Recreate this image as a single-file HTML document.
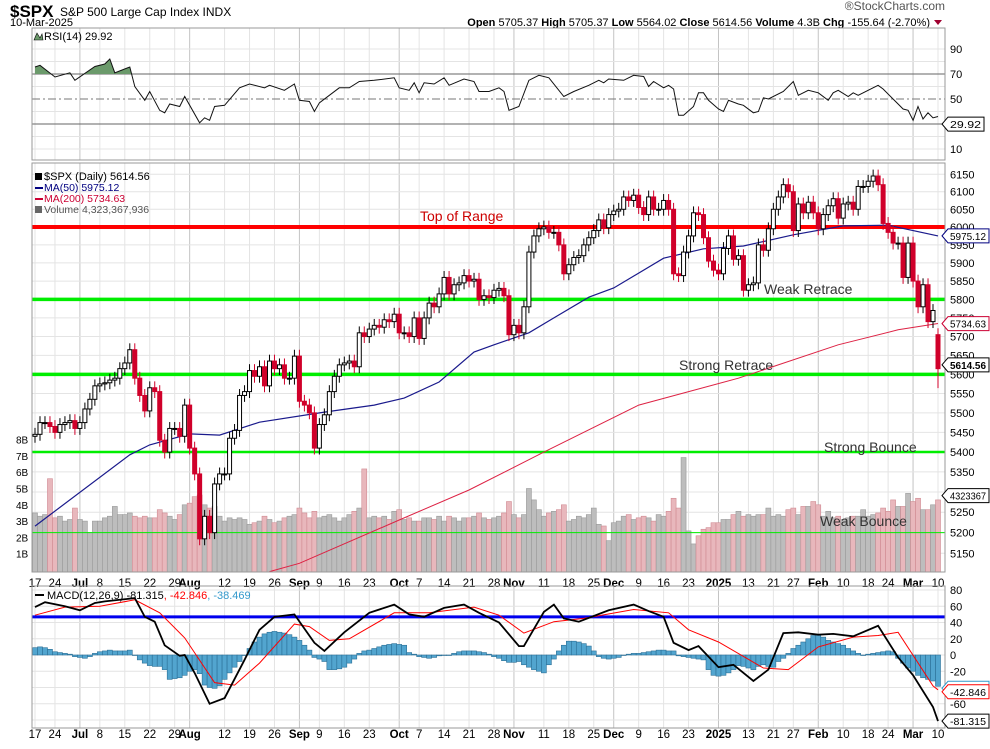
<!DOCTYPE html>
<html><head><meta charset="utf-8"><style>
body{margin:0;background:#fff;}
svg text{font-family:"Liberation Sans",Arial,sans-serif;}
</style></head><body>
<svg id="chart" width="990" height="744" viewBox="0 0 990 744" xmlns="http://www.w3.org/2000/svg">
<rect x="0" y="0" width="990" height="744" fill="#fff"/>
<g>
<text x="10" y="17" font-size="17" font-weight="bold">$SPX</text>
<text x="60" y="16" font-size="12">S&amp;P 500 Large Cap Index  INDX</text>
<text x="10" y="26" font-size="11">10-Mar-2025</text>
<text x="945" y="10" font-size="12" fill="#555" text-anchor="end">®StockCharts.com</text>
<text x="930" y="26" font-size="11" text-anchor="end"><tspan font-weight="bold">Open</tspan> 5705.37  <tspan font-weight="bold">High</tspan> 5705.37  <tspan font-weight="bold">Low</tspan> 5564.02  <tspan font-weight="bold">Close</tspan> 5614.56  <tspan font-weight="bold">Volume</tspan> 4.3B  <tspan font-weight="bold">Chg</tspan> -155.64 (-2.70%)</text>
<polygon points="934,20 942,20 938,25" fill="#a00030"/>
</g>
<g id="grid"></g>
<g id="vol"></g>
<g id="lines"></g>
<g id="price"></g>
<g id="rsi"></g>
<g id="macd"></g>
<g id="axes"></g>
<g id="anno">
<text x="420" y="221" font-size="14" fill="#cc0000">Top of Range</text>
<text x="764" y="294" font-size="14" fill="#333">Weak Retrace</text>
<text x="679" y="370" font-size="14" fill="#333">Strong Retrace</text>
<text x="824" y="452" font-size="14" fill="#333">Strong Bounce</text>
<text x="820" y="526" font-size="14" fill="#333">Weak Bounce</text>
</g>
<g font-family="DejaVu Sans, sans-serif">
<text x="44" y="180" font-size="11">$SPX (Daily) 5614.56</text>
<rect x="35" y="173" width="7" height="7" fill="#000"/>
<line x1="35" y1="188" x2="43" y2="188" stroke="#000080" stroke-width="2"/>
<text x="44" y="191" font-size="10.5" fill="#000080">MA(50) 5975.12</text>
<line x1="35" y1="199" x2="43" y2="199" stroke="#cc0033" stroke-width="2"/>
<text x="44" y="202" font-size="10.5" fill="#cc0033">MA(200) 5734.63</text>
<rect x="35" y="206" width="7" height="7" fill="#666"/>
<text x="44" y="213" font-size="10.5" fill="#555">Volume 4,323,367,936</text>
<text x="44" y="40" font-size="11">RSI(14) 29.92</text>
<polygon points="34,40 37,33 40,38 42,34 43,40" fill="#6b9a6b" stroke="#000" stroke-width="0.6"/>
<line x1="35" y1="595" x2="44" y2="595" stroke="#000" stroke-width="2"/>
<text x="47" y="599" font-size="11">MACD(12,26,9) -81.315<tspan fill="#ff0000">, -42.846</tspan><tspan fill="#3399cc">, -38.469</tspan></text>
</g>
</svg>
<script>
// ---- data ----
const closes = [
5445,5475,5475,5465,
5450,5470,5475,5480,5460,
5475,5510,5535,5570,
5575,5578,5585,5590,5615,
5630,5665,5590,5545,5505,
5565,5555,5430,5400,5460,
5460,5440,5520,5410,5345,
5185,5240,5200,5320,5345,
5345,5435,5455,5545,5555,
5610,5595,5620,5570,5635,
5615,5625,5590,5590,5648,
5530,5520,5500,5410,
5470,5495,5555,5595,5625,
5630,5635,5620,5710,5700,
5720,5730,5725,5745,5740,
5760,5710,5710,5700,5750,
5695,5750,5790,5780,5815,
5860,5815,5840,5845,5865,
5850,5855,5800,5810,5805,
5825,5830,5810,5705,5730,
5710,5780,5930,5975,5995,
6000,5985,5985,5950,5870,
5895,5915,5920,5950,5970,
5990,6020,5998,6035,
6045,6050,6085,6075,6090,
6055,6035,6085,6050,6050,
6075,6050,5870,5865,5930,
5975,6040,6035,5970,
5905,5880,5870,5940,
5975,5910,5920,5825,
5840,5845,5950,5935,5995,
6050,6085,6120,6100,
5990,6065,6040,6070,6040,
5995,6035,6060,6080,6025,
6065,6070,6050,6115,6115,
6130,6145,6120,6010,
5985,5955,5955,5860,5955,
5850,5780,5840,5740,5770,
5615];
const firstOpen = 5440;
const lastLow = 5564;
const volumes = [
3.5,3.3,3.4,5.6, 3.2,3.3,3.0,3.1,3.8, 3.1,3.0,2.3,3.0, 3.0,3.2,3.3,3.9,3.4,
3.4,3.5,3.3,3.2,3.3, 3.2,3.2,3.7,3.5,3.3, 3.1,3.4,4.0,4.1,4.5, 4.6,4.0,3.8,3.9,3.3,
3.0,3.2,3.1,3.2,3.1, 2.8,2.9,3.0,3.3,3.1, 2.9,3.0,3.2,3.3,3.4, 3.8,3.5,3.2,3.6,
3.2,3.3,3.4,3.2,3.0, 3.2,3.4,3.6,3.8,6.2, 3.2,3.3,3.2,3.3,3.1, 3.6,3.7,3.1,3.2,3.0,
3.0,3.2,3.2,3.1,3.3, 3.0,3.3,3.2,3.0,3.2, 3.2,3.3,3.5,3.2,3.1, 3.2,3.3,3.5,4.2,3.4,
3.2,3.4,5.0,4.3,3.7, 3.3,3.5,3.6,3.7,4.0, 3.0,3.1,3.3,3.2,3.4, 3.8,2.8,2.7,1.8,
2.9,3.0,3.3,3.4,3.1, 3.2,3.3,3.2,3.0,3.4, 3.3,3.6,4.4,3.8,6.9, 2.4,1.6,2.1,2.5,
2.6,2.9,2.9,3.1, 3.1,3.4,3.6,3.3, 3.4,3.3,3.4,3.4,3.8, 3.3,3.4,3.3,3.7,
3.8,3.4,3.9,3.9,4.2, 4.0,3.3,3.6,3.2,3.3, 3.1,3.2,3.3,3.3,3.7, 3.3,3.4,3.5,3.8,
3.6,4.3,3.9,3.9,4.7, 4.2,4.4,3.7,3.7,4.0, 4.3];
const ma50Idx = [0,19,23,31,37,45,58,68,74,81,88,92,99,104,111,116,126,134,142,152,162,171,181];
const ma50Val = [5216,5393,5418,5446,5443,5476,5502,5520,5538,5580,5659,5678,5710,5750,5806,5831,5913,5939,5947,5978,6003,6005,5975];
const ma200Idx = [47,53,73,87,102,121,141,161,173,181];
const ma200Val = [5106,5126,5231,5305,5400,5520,5590,5678,5718,5735];
const rsiIdx = [0,1,4,7,8,12,14,15,16,19,20,22,23,25,26,27,29,30,33,34,35,36,38,41,43,46,47,50,52,53,55,56,57,61,63,65,68,72,73,75,76,77,78,80,82,83,86,88,89,91,93,94,95,97,99,101,103,106,108,111,113,114,115,118,120,122,123,124,126,127,128,129,130,132,133,134,135,137,138,139,141,142,144,145,146,147,150,152,153,155,157,159,160,161,163,164,165,168,169,170,173,174,175,176,177,178,179,180,181];
const rsiVal = [75.6,77,67.6,71,65,76,78,82,71,75.6,60,49,56,41,39,46,44,52,31,35,33,44,45,59,62,59,61,57,62,49,48,40,47,59,59,64,65,67,59,57,63,55,63,62,67,61,66,64,56,56,59,56,41,44,65,69,67,52,56,61,65,63,66,65,69,68,60,64,59,61,58,37,37,44,55,55,49,42,40,49,46,45,39,40,51,50,56,64,53,57,55,49,55,57,52,55,53,59,61,58,46,42,41,33,44,34,39,35,36,29.92];
const macdIdx = [0,2,6,9,12,14,20,22,24,26,29,30,32,35,38,42,45,48,52,56,58,62,67,72,75,78,82,86,89,93,97,98,102,104,106,109,115,120,123,126,128,131,133,137,140,144,147,150,153,157,160,164,169,173,176,180,181];
const macdVal = [59,65,60,55,64,66,70,47,41,12,-1,0,-22,-60,-53,-6,31,47,50,15,5,28,52,62,50,47,58,62,52,40,11,11,53,62,45,41,55,62,54,47,15,6,11,-15,-12,-32,-18,27,28,25,26,23,36,-3,-25,-64,-81.315];
const sigIdx = [0,6,13,20,25,30,36,40,45,52,55,59,63,72,79,88,93,98,104,110,120,127,131,137,146,151,157,164,169,173,180,181];
const sigVal = [49,59,60,68,52,21,-34,-37,-10,38,35,18,20,52,52,59,49,27,41,45,56,52,31,16,-16,-18,10,22,24,28,-38,-42.846];
const histVal = [
9,10,9,7, 4,3,2,1, -2,-3,-4,-2, 2,4,5,6,5,5,5,6, 0,-6,-10, -13,-14,-14,-18,
-30,-29,-28,-25, -20,-18,-23, -37,-40,-41,-38, -30,-22,-15,-8, 0,8,16,22,
26,28,29,28,27,25, 22,18,12,6, -3,-5,-8, -18,-18,-17,-15, -10,-5,
2,5,6,8,10,12,13,14,13,12, 3,1,-2,-3,-4, -3,-1,0,0, 2,4,5,5,5,4,3,1,
-2,-4,-7,-9,-9, -8,-12,-15,-18,-20,-22, -12,-5, 5,12,17,17,16,14, 11,5,
-2,-4,-5,-4,-3, 0,1,2,2,3, 4,5,6,6,5,5, -1,-2,-3,-4,-5,-6, -18,-25,-26,-25,
-22,-18,-13,-14, -16,-18,-14,-12,-14,-15, -8,-4,2,8,12,16, 20,24,25,22,
18,16,14,12,8,5, 2,0,1,2, 3,4,5,4,-4,-10,-16,-20,-25,-28,-30,-32,-38.469];
const tickIdx = [0,4,9,13,18,23,28,31,38,43,48,53,57,62,67,73,77,82,87,92,96,102,107,112,116,121,126,131,137,143,148,152,157,162,167,171,176,181];
const tickLbl = ["17","24","Jul","8","15","22","29","Aug","12","19","26","Sep","9","16","23","Oct","7","14","21","28","Nov","11","18","25","Dec","9","16","23","2025","13","21","27","Feb","10","18","24","Mar","10"];
const monthLbl = ["Jul","Aug","Sep","Oct","Nov","Dec","2025","Feb","Mar"];
const priceTicks = [6150,6100,6050,6000,5950,5900,5850,5800,5750,5700,5650,5600,5550,5500,5450,5400,5350,5300,5250,5200,5150];
const volTicks = [1,2,3,4,5,6,7,8];
const rsiTicks = [90,70,50,30,10];
const macdTicks = [80,60,40,20,0,-20,-60];
const levelVals = [6000,5800,5600,5400,5200];

// ---- geometry ----
const L=32,R=945,N=closes.length;
const RT=28,RB=160,PT=163,PB=572,MT=586,MB=728;
const xOf=i=>35+i*(903/(N-1));
const yP=p=>227-2136*Math.log(p/6000);
const yV=v=>570-v*16.3;
const yR=r=>99-(r-50)*1.25;
const yM=m=>655-m*0.8125;
const NS='http://www.w3.org/2000/svg';
function mk(parent,tag,attrs,txt){const e=document.createElementNS(NS,tag);for(const k in attrs)e.setAttribute(k,attrs[k]);if(txt!==undefined)e.textContent=txt;parent.appendChild(e);return e;}
const G=id=>document.getElementById(id);
const grid=G('grid'),vol=G('vol'),lines=G('lines'),price=G('price'),rsi=G('rsi'),macd=G('macd'),axes=G('axes');

// grid
[[RT,RB],[PT,PB],[MT,MB]].forEach(([t,b])=>{
  tickIdx.forEach((ti,k)=>{
    const e=mk(grid,'line',{x1:xOf(ti),x2:xOf(ti),y1:t,y2:b,stroke:monthLbl.includes(tickLbl[k])?'#c4c4c4':'#e4e4e4','stroke-width':1});
    
    
  });
});
priceTicks.forEach(p=>{
  const e=mk(grid,'line',{x1:L,x2:R,y1:yP(p),y2:yP(p),stroke:'#e4e4e4'});
  
  
  const t=mk(axes,'text',{x:950,y:yP(p)+4,'font-size':11},String(p));
  
  
});
for(let r=10;r<=90;r+=10){
  if(r===30||r===50||r===70)continue;
  const e=mk(grid,'line',{x1:L,x2:R,y1:yR(r),y2:yR(r),stroke:'#e4e4e4'});
  
  
}
for(let m=-80;m<=80;m+=20){
  const e=mk(grid,'line',{x1:L,x2:R,y1:yM(m),y2:yM(m),stroke:'#e4e4e4'});
  
  
}

// volume
volumes.forEach((v,i)=>{
  const down=i>0&&closes[i]<closes[i-1];
  const e=mk(vol,'rect',{x:xOf(i)-2.5,y:yV(v),width:5,height:PB-yV(v),fill:down?'#e8b7bc':'#bdbdbd',stroke:down?'#d08a92':'#999','stroke-width':0.6});
  
  
});

// level lines
levelVals.forEach((v,k)=>{
  const col=k===0?'#ff0000':'#00ee00';
  const w=k===0?4:(k===4?1:(k===3?2.5:3.5));
  const e=mk(lines,'line',{x1:L,x2:R,y1:yP(v),y2:yP(v),stroke:col,'stroke-width':w});
  
  
});

// moving averages
function poly(par,idx,val,yf,col,w){
  const pts=idx.map((ix,k)=>xOf(ix).toFixed(1)+','+yf(val[k]).toFixed(1)).join(' ');
  return mk(par,'polyline',{points:pts,fill:'none',stroke:col,'stroke-width':w});
}
const m200=poly(price,ma200Idx,ma200Val,yP,'#dd2244',1);


const m50=poly(price,ma50Idx,ma50Val,yP,'#1a1a8c',1.2);



// candles
closes.forEach((c,i)=>{
  const o=i===0?firstOpen:(i===N-1?5705:closes[i-1]);
  const hi=Math.max(o,c)*1.003, lo=i===N-1?lastLow:Math.min(o,c)*0.997;
  const up=c>=o, x=xOf(i);
  const col=up?'#000':'#d0002a';
  const w=mk(price,'line',{x1:x,x2:x,y1:yP(hi),y2:yP(lo),stroke:col,'stroke-width':1});
  
  
  const top=yP(Math.max(o,c)),bot=yP(Math.min(o,c));
  const b=mk(price,'rect',{x:x-2,y:top,width:4,height:Math.max(1,bot-top),fill:up?'#fff':'#d0002a',stroke:col,'stroke-width':1});
  
  
});

// RSI
const rl70=mk(rsi,'line',{x1:L,x2:R,y1:yR(70),y2:yR(70),stroke:'#666'});


const rl30=mk(rsi,'line',{x1:L,x2:R,y1:yR(30),y2:yR(30),stroke:'#666'});


const rl50=mk(rsi,'line',{x1:L,x2:R,y1:yR(50),y2:yR(50),stroke:'#777','stroke-dasharray':'8,3,2,3'});


const defs=mk(G('chart'),'defs',{});
const cp=mk(defs,'clipPath',{id:'above70'});
mk(cp,'rect',{x:L,y:RT,width:R-L,height:yR(70)-RT});
let ap='M'+xOf(rsiIdx[0])+','+yR(70)+' '+rsiIdx.map((ix,k)=>'L'+xOf(ix).toFixed(1)+','+yR(rsiVal[k]).toFixed(1)).join(' ')+' L'+xOf(rsiIdx[rsiIdx.length-1])+','+yR(70)+' Z';
const rfill=mk(rsi,'path',{d:ap,fill:'#6b9a6b','clip-path':'url(#above70)'});


const rline=poly(rsi,rsiIdx,rsiVal,yR,'#111',1);


rsiTicks.forEach(r=>{
  const t=mk(axes,'text',{x:950,y:yR(r)+4,'font-size':11},String(r));
  
  
});

// MACD
histVal.forEach((h,i)=>{
  const y0=yM(0),y1=yM(h);
  const e=mk(macd,'rect',{x:xOf(i)-2.5,y:Math.min(y0,y1),width:5,height:Math.max(0.5,Math.abs(y1-y0)),fill:'#52a5cf',stroke:'#2b6f96','stroke-width':0.6});
  
  
});
const bl=mk(macd,'line',{x1:L,x2:R,y1:yM(47),y2:yM(47),stroke:'#0000ee','stroke-width':3});


const sl=poly(macd,sigIdx,sigVal,yM,'#ff0000',1);


const ml=poly(macd,macdIdx,macdVal,yM,'#000',1.8);


macdTicks.forEach(m=>{
  const t=mk(axes,'text',{x:950,y:yM(m)+4,'font-size':11},String(m));
  
  
});

// volume ticks
volTicks.forEach(v=>{
  const t=mk(axes,'text',{x:16,y:yV(v)+4,'font-size':10},v+'B');
  
  
});

// date ticks
[579+11,736+5].forEach(yy=>{
  tickIdx.forEach((ti,k)=>{
    const isM=monthLbl.includes(tickLbl[k]);
    const t=mk(axes,'text',{x:xOf(ti),y:yy-3,'font-size':11.5,'text-anchor':'middle','font-weight':isM?'bold':'normal'},tickLbl[k]);
    
    
  });
});

// panel borders
[[RT,RB],[PT,PB],[MT,MB]].forEach(([t,b])=>{
  const e=mk(axes,'rect',{x:L,y:t,width:R-L,height:b-t,fill:'none',stroke:'#999'});
  
  
});

// value tags
function tag(y,txt,col,bold,w){
  const g=mk(axes,'g',{});
  mk(g,'polygon',{points:`${R-3},${y} ${R+3},${y-7} ${R+3+w},${y-7} ${R+3+w},${y+7} ${R+3},${y+7}`,fill:'#fff',stroke:col});
  mk(g,'text',{x:R+5,y:y+4,'font-size':10.5,fill:'#000','font-weight':bold?'bold':'normal',textLength:w-5,lengthAdjust:'spacingAndGlyphs'},txt);
  return g;
}
const t1=tag(yR(29.92),'29.92','#000',false,36);


const t2=tag(yP(5975.12),'5975.12','#000080',false,41);


const t3=tag(yP(5734.63),'5734.63','#cc0033',false,41);


const t4=tag(yP(5614.56)-4,'5614.56','#000',true,41);


const t5=tag(yV(4.32)-4,'4323367','#000',false,41);


const t6=tag(yM(-38.469)+2,'-38.469','#3399cc',false,41);


const t7=tag(yM(-42.846)+2,'-42.846','#ff0000',false,41);


const t8=tag(yM(-81.315),'-81.315','#000',false,41);


</script>
</body></html>
